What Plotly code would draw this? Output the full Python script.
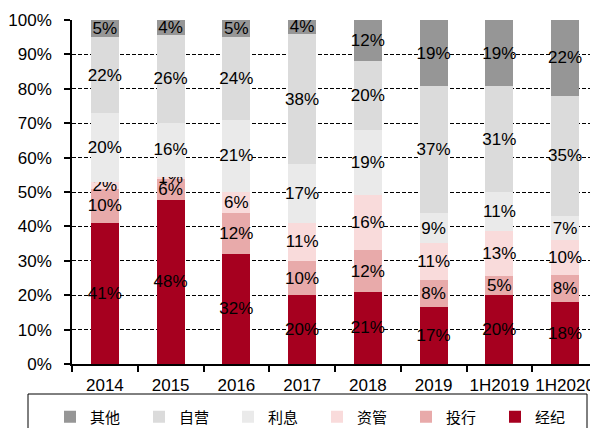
import plotly.graph_objects as go

categories = ["2014", "2015", "2016", "2017", "2018", "2019", "1H2019", "1H2020"]
# stacked bottom -> top (share of revenue, %)
jingji = [41, 47.8, 32, 20, 21, 16.6, 20.2, 18]     # 经纪
touhang = [10, 6.0, 12, 10, 12, 7.8, 5.3, 8]        # 投行
ziguan = [2, 0.6, 6, 11, 16, 10.7, 13.1, 10]        # 资管
lixi = [20, 15.7, 21, 17, 19, 8.7, 11.4, 7]         # 利息
ziying = [22, 25.6, 24, 38, 20, 37.0, 30.8, 35]     # 自营
qita = [5, 4.3, 5, 4, 12, 19.2, 19.2, 22]           # 其他

series = [
    ("经纪", jingji, "#A6001F"),
    ("投行", touhang, "#E8AAAA"),
    ("资管", ziguan, "#F9DBDB"),
    ("利息", lixi, "#EAEAEA"),
    ("自营", ziying, "#DBDBDB"),
    ("其他", qita, "#969696"),
]

FONT = "Liberation Sans, Arial, sans-serif"

fig = go.Figure()
for name, vals, color in series:
    fig.add_trace(go.Bar(
        x=categories, y=vals, name=name,
        marker=dict(color=color, line=dict(width=0)),
        texttemplate="%{y:.0f}%",
        textposition="inside", insidetextanchor="middle", textangle=0,
        textfont=dict(family=FONT, size=17, color="black"),
    ))

# page body has an 8px offset, so the figure is sized to fit the window
W, H = 590, 420
L, R, T, B = 64, 0, 12, 64
pw = W - L - R
ph = H - T - B

def px_x(x):
    return (x - L) / pw

def px_y(y):
    return (H - B - y) / ph

fig.update_layout(
    width=W, height=H,
    margin=dict(l=L, r=R, t=T, b=B, pad=0, autoexpand=False),
    barmode="stack", bargap=0.574,
    plot_bgcolor="white", paper_bgcolor="white",
    uniformtext=dict(minsize=17, mode="show"),
    font=dict(family=FONT, size=17, color="black"),
    showlegend=True,
    legend=dict(
        orientation="h", traceorder="reversed",
        x=px_x(42), xanchor="left", y=px_y(409), yanchor="middle",
        font=dict(family="Noto Sans CJK SC", size=15, color="black"),
        bgcolor="rgba(0,0,0,0)", borderwidth=0,
        entrywidth=44, entrywidthmode="pixels",
    ),
    shapes=[dict(
        type="rect", xref="paper", yref="paper",
        x0=px_x(20), x1=px_x(579), y0=px_y(386), y1=px_y(460),
        line=dict(color="black", width=1), fillcolor="rgba(0,0,0,0)", layer="above",
    )],
)
fig.update_yaxes(
    range=[0, 100], dtick=10, ticksuffix="%",
    showgrid=True, gridcolor="black", gridwidth=1, griddash="4px,2px",
    showline=True, linecolor="black", linewidth=1.5,
    ticks="outside", ticklen=6, tickcolor="black", tickwidth=1.5,
    ticklabelstandoff=9,
    tickfont=dict(family=FONT, size=17, color="black"),
    zeroline=False, fixedrange=True, automargin=False,
)
fig.update_xaxes(
    showgrid=False, showline=True, linecolor="black", linewidth=1.5,
    ticks="outside", ticklen=6, tickcolor="black", tickwidth=1.5,
    tickson="boundaries", ticklabelstandoff=5, tickangle=0,
    tickfont=dict(family=FONT, size=17, color="black"),
    fixedrange=True, automargin=False,
)

fig.write_html("out.html")
